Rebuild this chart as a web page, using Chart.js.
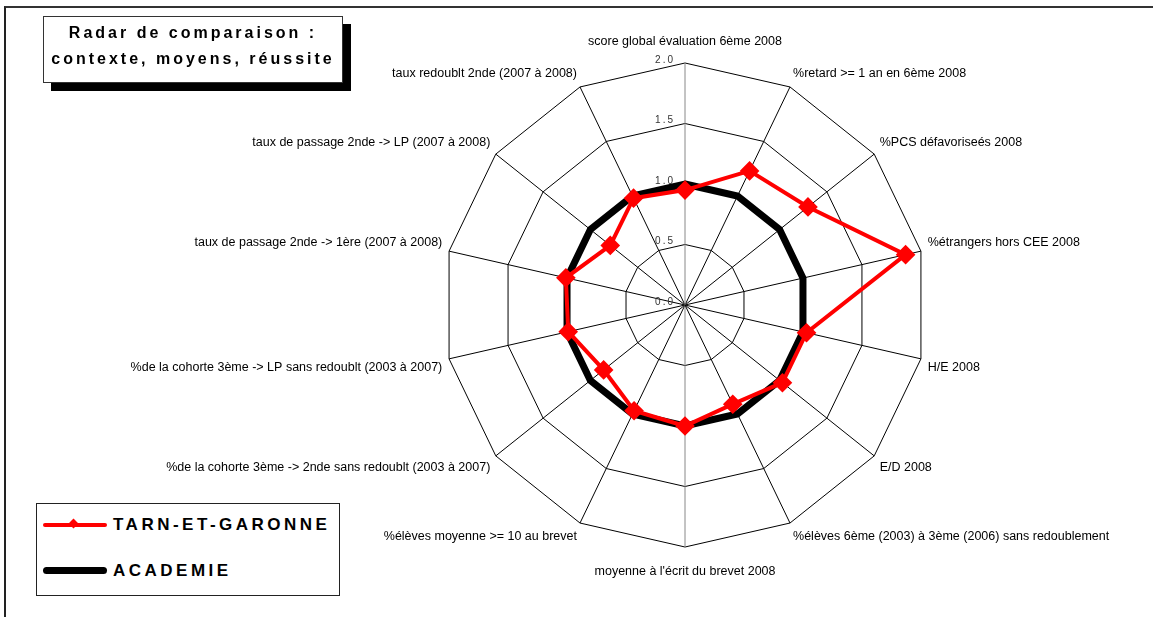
<!DOCTYPE html>
<html>
<head>
<meta charset="utf-8">
<script src="https://cdn.jsdelivr.net/npm/chart.js@4"></script>
<style>
  body { margin: 0; background: #fff; font-family: "Liberation Sans", Arial, sans-serif; }
  #wrap { position: relative; width: 1153px; height: 617px; overflow: hidden; }
  #frame { position: absolute; left: 4px; top: 6px; right: -10px; bottom: -10px;
           border-left: 2px solid #222; border-top: 2px solid #333; }
  #box { position: absolute; left: -115px; top: 0; width: 1600px; height: 617px; }
  #title { position: absolute; left: 43px; top: 16px; width: 298px; height: 62px;
           border: 1px solid #333; background: #fff; box-shadow: 8px 8px 0 #000;
           font-weight: bold; font-size: 16px; letter-spacing: 3px; text-align: center;
           line-height: 26px; padding-top: 3px; }
  #legend { position: absolute; left: 36px; top: 503px; width: 302px; height: 91px;
            border: 1px solid #222; background: #fff; }
  .row { position: absolute; left: 6px; height: 20px; }
  .row span { position: absolute; left: 70px; top: 0; font-weight: bold; font-size: 17px;
              letter-spacing: 3.5px; line-height: 20px; white-space: nowrap; }
  .red { position: absolute; left: 0; top: 8px; width: 64px; height: 4px; background: #ff0000; border-radius: 2px; }
  .red i { position: absolute; left: 27px; top: -3px; width: 7px; height: 7px; background: #ff0000; transform: rotate(45deg); }
  .blk { position: absolute; left: 0; top: 6px; width: 64px; height: 7px; background: #000; border-radius: 4px; }
</style>
</head>
<body>
<div id="wrap">
  <div id="frame"></div>
  <div id="box"><canvas id="myChart" width="1600" height="617"></canvas></div>
  <div id="title">Radar de comparaison :<br>contexte, moyens, réussite</div>
  <div id="legend">
    <div class="row" style="top:11px"><div class="red"><i></i></div><span>TARN-ET-GARONNE</span></div>
    <div class="row" style="top:57px"><div class="blk"></div><span>ACADEMIE</span></div>
  </div>
</div>
<script>
const categories = [
  "score global évaluation 6ème 2008",
  "%retard >= 1 an en 6ème 2008",
  "%PCS défavoriseés 2008",
  "%étrangers hors CEE 2008",
  "H/E 2008",
  "E/D 2008",
  "%élèves 6ème (2003) à 3ème (2006) sans redoublement",
  "moyenne à l'écrit du brevet 2008",
  "%élèves moyenne >= 10 au brevet",
  "%de la cohorte 3ème -> 2nde sans redoublt (2003 à 2007)",
  "%de la cohorte 3ème -> LP sans redoublt (2003 à 2007)",
  "taux de passage 2nde -> 1ère (2007 à 2008)",
  "taux de passage 2nde -> LP (2007 à 2008)",
  "taux redoublt 2nde (2007 à 2008)"
];
const tarn = [0.95, 1.23, 1.30, 1.87, 1.03, 1.03, 0.91, 1.0, 0.97, 0.86, 0.99, 1.01, 0.79, 0.98];
const academie = [1, 1, 1, 1, 1, 1, 1, 1, 1, 1, 1, 1, 1, 1];
const tickValues = [0, 0.5, 1, 1.5, 2];
const tickLabels = ["0.0", "0.5", "1.0", "1.5", "2.0"];

// tick labels sit left of the vertical axis, like in the excel chart
const tickLabelsPlugin = {
  id: "tickLabels",
  beforeDatasetsDraw(chart) {
    const s = chart.scales.r;
    const ctx = chart.ctx;
    ctx.save();
    ctx.font = '10px "Liberation Sans"';
    ctx.fillStyle = "#333";
    ctx.textAlign = "right";
    ctx.textBaseline = "middle";
    ctx.letterSpacing = "2px";
    tickValues.forEach((v, i) => {
      const d = s.getDistanceFromCenterForValue(v);
      ctx.fillText(tickLabels[i], s.xCenter - 10, s.yCenter - d - 3);
    });
    ctx.restore();
  }
};

const ctx = document.getElementById("myChart");
new Chart(ctx, {
  type: "radar",
  data: {
    labels: categories,
    datasets: [{
      label: "TARN-ET-GARONNE",
      data: tarn,
      borderColor: "#ff0000",
      backgroundColor: "#ff0000",
      borderWidth: 4,
      pointStyle: "rectRot",
      pointRadius: 7,
      pointBackgroundColor: "#ff0000",
      pointBorderColor: "#ff0000",
      fill: false
    }, {
      label: "ACADEMIE",
      data: academie,
      borderColor: "#000",
      borderWidth: 7,
      pointRadius: 0,
      fill: false
    }]
  },
  options: {
    responsive: false,
    animation: false,
    layout: { padding: { top: 33, bottom: 37, left: 0, right: 0 } },
    plugins: { legend: { display: false }, tooltip: { enabled: false } },
    elements: { line: { tension: 0 } },
    scales: {
      r: {
        min: 0,
        max: 2,
        ticks: { stepSize: 0.5, display: false },
        grid: { color: "#000", lineWidth: 1 },
        angleLines: {
          color: (c) => (c.index === 0 || c.index === 7) ? "#888" : "#000",
          lineWidth: 1
        },
        pointLabels: {
          font: { family: "Liberation Sans", size: 12.5 },
          color: "#000",
          padding: (c) => c.index === 0 ? 14 : (c.index === 7 ? 17 : 7)
        }
      }
    }
  },
  plugins: [tickLabelsPlugin]
});
</script>
</body>
</html>
